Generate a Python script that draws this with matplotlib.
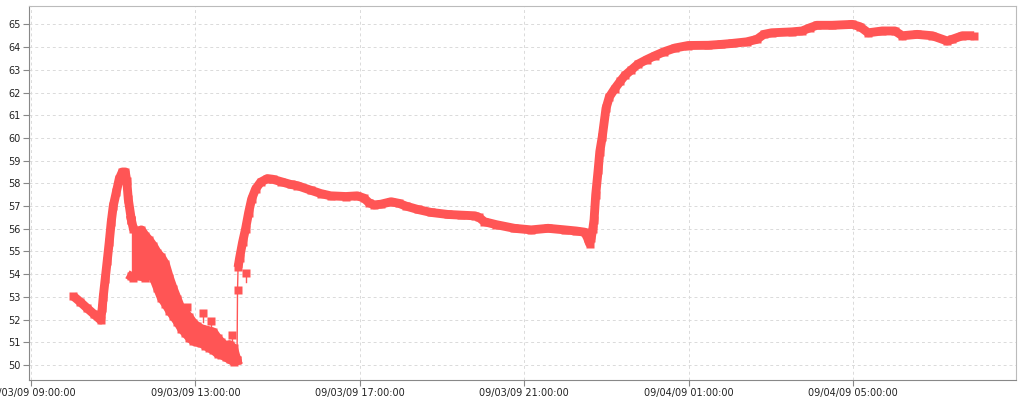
import datetime as dt
import matplotlib
matplotlib.use("Agg")
import matplotlib.pyplot as plt
import matplotlib.dates as mdates

# ---- data (hours after 2009-09-03 09:00, value) ----
base = dt.datetime(2009, 9, 3, 9, 0, 0)

# first part: start, dip, sharp peak
hours_a = [1.024, 1.195, 1.366, 1.537, 1.695, 1.732, 1.756, 1.805, 1.854, 1.902,
           1.951, 2.000, 2.073, 2.146, 2.220, 2.293, 2.329, 2.366, 2.440]
values_a = [53.04, 52.78, 52.50, 52.23, 51.98, 52.50, 53.00, 53.80, 54.60, 55.40,
            56.30, 57.00, 57.60, 58.20, 58.50, 58.50, 58.10, 57.30, 56.40]

# noisy stretch ~11:30-14:00: upper and lower envelope of the scattered readings
noise_hours = [2.440, 2.490, 2.585, 2.683, 2.780, 2.878, 2.976, 3.073, 3.171, 3.268,
               3.366, 3.463, 3.561, 3.659, 3.756, 3.854, 3.951, 4.049, 4.146, 4.244,
               4.341, 4.439, 4.537, 4.634, 4.732, 4.829, 4.927, 5.012]
noise_top = [56.40, 56.00, 55.85, 55.95, 55.70, 55.50, 55.25, 54.95, 54.75, 54.45,
             53.85, 53.35, 52.90, 52.45, 52.30, 52.10, 51.85, 51.70, 51.60, 51.55,
             51.50, 51.45, 51.20, 51.00, 50.85, 50.90, 50.75, 50.20]
noise_bottom = [53.90, 53.85, 53.95, 53.90, 53.85, 54.00, 53.85, 53.40, 52.95, 52.70,
                52.40, 52.15, 51.90, 51.60, 51.40, 51.20, 51.05, 51.00, 50.95, 50.85,
                50.75, 50.65, 50.50, 50.45, 50.35, 50.25, 50.15, 50.20]
# isolated readings sticking out of the noisy stretch
outlier_hours = [3.805, 4.195, 4.390, 4.878, 5.220]
outlier_values = [52.55, 52.30, 51.95, 51.30, 54.07]

# second part: after the jump at ~14:00
hours_b = [5.024, 5.037, 5.073, 5.146, 5.220, 5.293, 5.366, 5.463, 5.585, 5.75,
           5.88, 6.07, 6.32, 6.48, 6.80, 7.05, 7.29, 7.66, 7.94, 8.10,
           8.22, 8.35, 8.51, 8.76, 8.95, 9.12, 9.41, 9.73, 10.14, 10.46,
           10.80, 10.90, 11.03, 11.32, 11.76, 12.17, 12.58, 12.99, 13.27, 13.47,
           13.54, 13.59, 13.63, 13.67, 13.70, 13.74, 13.80, 13.84, 13.90, 13.99,
           14.07, 14.20, 14.34, 14.45, 14.61, 14.77, 14.98, 15.18, 15.41, 15.67,
           15.99, 16.48, 16.80, 17.05, 17.41, 17.66, 17.83, 18.02, 18.51, 18.76,
           18.95, 19.12, 19.49, 19.98, 20.17, 20.37, 20.71, 21.02, 21.20, 21.56,
           21.93, 22.29, 22.41, 22.66, 22.95]
values_b = [53.30, 54.30, 54.70, 55.40, 56.00, 56.70, 57.30, 57.75, 58.05, 58.21,
            58.18, 58.08, 57.95, 57.90, 57.70, 57.55, 57.45, 57.42, 57.45, 57.35,
            57.15, 57.05, 57.08, 57.19, 57.12, 57.00, 56.85, 56.72, 56.63, 56.60,
            56.57, 56.50, 56.31, 56.18, 56.02, 55.95, 56.02, 55.95, 55.90, 55.85,
            55.60, 55.35, 55.60, 56.00, 56.40, 57.50, 58.60, 59.40, 60.06, 61.30,
            61.80, 62.16, 62.50, 62.75, 63.00, 63.25, 63.45, 63.62, 63.80, 63.96,
            64.07, 64.08, 64.12, 64.16, 64.23, 64.34, 64.56, 64.63, 64.67, 64.71,
            64.85, 64.96, 64.96, 65.00, 64.90, 64.63, 64.71, 64.71, 64.50, 64.56,
            64.50, 64.27, 64.34, 64.50, 64.50]

y_ticks = list(range(50, 66))

RED = "#FF5555"
LW = 6.4
MS = 6.0


def to_times(hours):
    return [base + dt.timedelta(hours=h) for h in hours]


times_a = to_times(hours_a)
times_n = to_times(noise_hours)
times_o = to_times(outlier_hours)
times_b = to_times(hours_b)

fig = plt.figure(figsize=(10.24, 4.0), dpi=100)
ax = fig.add_axes([29 / 1024, 20 / 400, (1016 - 29) / 1024, (380 - 6) / 400])

# thin connecting line across the jump
ax.plot([times_n[-1], times_b[0]], [noise_bottom[-1], values_b[0]],
        color=RED, lw=1.0, zorder=3)
ax.plot(times_b[:2], values_b[:2], color=RED, lw=1.0, zorder=3)

# main thick traces
ax.plot(times_a, values_a, color=RED, lw=LW, solid_joinstyle="round",
        solid_capstyle="butt", zorder=3)
ax.plot(times_b[1:], values_b[1:], color=RED, lw=LW, solid_joinstyle="round",
        solid_capstyle="butt", zorder=3)

# noisy stretch
ax.fill_between(times_n, noise_bottom, noise_top, color=RED, lw=0, zorder=3)
ax.plot(times_n, noise_top, color=RED, lw=LW, solid_joinstyle="round", zorder=3)
ax.plot(times_n, noise_bottom, color=RED, lw=LW, solid_joinstyle="round", zorder=3)

# square markers at readings
ax.plot(times_a + times_b, values_a + values_b, ls="none", marker="s", ms=MS,
        mfc=RED, mec="none", zorder=4)
ax.plot(times_n, noise_top, ls="none", marker="s", ms=MS, mfc=RED, mec="none", zorder=4)
ax.plot(times_n, noise_bottom, ls="none", marker="s", ms=MS, mfc=RED, mec="none", zorder=4)
for t, v in zip(times_o, outlier_values):
    ax.plot([t, t], [v, v - 0.4], color=RED, lw=1.0, zorder=3)
ax.plot(times_o, outlier_values, ls="none", marker="s", ms=MS, mfc=RED,
        mec="none", zorder=4)

ax.set_xlim(base - dt.timedelta(minutes=3), base + dt.timedelta(hours=23, minutes=58))
ax.set_ylim(49.34, 65.81)
ax.set_yticks(y_ticks)

ax.xaxis.set_major_locator(mdates.HourLocator(byhour=[1, 5, 9, 13, 17, 21]))
ax.xaxis.set_major_formatter(mdates.DateFormatter("%m/%d/%y %H:%M:%S"))

ax.grid(True, color="#DADADA", linestyle=(0, (3, 3)), linewidth=0.7)
ax.set_axisbelow(True)

for s in ("left", "bottom"):
    ax.spines[s].set_color("#888888")
for s in ("top", "right"):
    ax.spines[s].set_color("#BBBBBB")

ax.tick_params(axis="both", direction="out", length=4, width=0.8,
               color="#888888", labelsize=7, labelcolor="#222222", pad=2)

fig.savefig("out.png", dpi=100, facecolor="white")
